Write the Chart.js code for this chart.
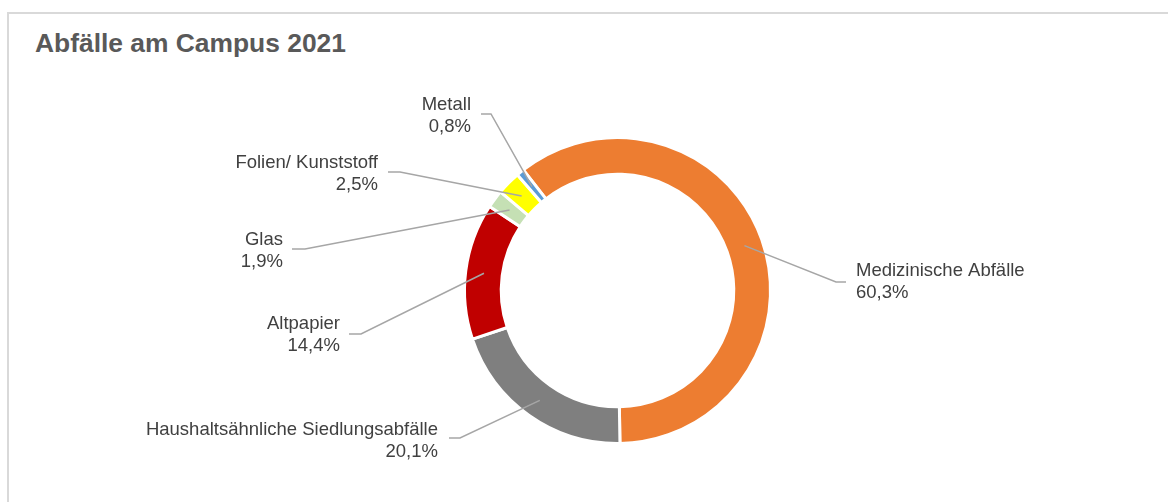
<!DOCTYPE html>
<html lang="de">
<head>
    <meta charset="UTF-8">
    <title>Abfälle am Campus 2021</title>
    <script src="https://cdn.jsdelivr.net/npm/chart.js"></script>
    <style>
        html, body { margin: 0; padding: 0; background: #fff; overflow: hidden; }
        .wrap { position: relative; width: 1168px; height: 502px; }
        .frame { position: absolute; left: 7px; top: 12px; width: 1200px; height: 520px; border-left: 2px solid #d9d9d9; border-top: 2px solid #d9d9d9; }
        .title { position: absolute; left: 35px; top: 28px; font: bold 26.4px "Liberation Sans", Arial, sans-serif; color: #595959; }
        canvas { position: absolute; left: 0; top: 0; }
    </style>
</head>
<body>
<div class="wrap">
    <div class="frame"></div>
    <div class="title">Abfälle am Campus 2021</div>
    <canvas id="wasteChart" width="1168" height="502"></canvas>
</div>
<script>
    // Daten
    const categories = ['Medizinische Abfälle', 'Haushaltsähnliche Siedlungsabfälle', 'Altpapier', 'Glas', 'Folien/ Kunststoff', 'Metall'];
    const shares = [60.3, 20.1, 14.4, 1.9, 2.5, 0.8];
    const colors = ['#ED7D31', '#7F7F7F', '#C00000', '#C5E0B4', '#FFFF00', '#5B9BD5'];

    // label placement (pixels) - text anchor + leader line elbow
    const labelLayout = [
        { x: 856, y: 271, align: 'left',  from: [846, 282], elbow: [836, 282] },
        { x: 438, y: 430, align: 'right', from: [449, 438], elbow: [460, 438] },
        { x: 340, y: 324, align: 'right', from: [349, 334], elbow: [361, 334] },
        { x: 283, y: 240, align: 'right', from: [292, 249], elbow: [305, 249] },
        { x: 378, y: 163, align: 'right', from: [388, 172], elbow: [400, 172] },
        { x: 471, y: 105, align: 'right', from: [481, 114], elbow: [491, 114] }
    ];

    const fmt = v => v.toFixed(1).replace('.', ',') + '%';

    const leaderLabels = {
        id: 'leaderLabels',
        afterDatasetsDraw(chart) {
            const ctx = chart.ctx;
            const arcs = chart.getDatasetMeta(0).data;
            ctx.save();
            arcs.forEach((arc, i) => {
                const L = labelLayout[i];
                const p = arc.tooltipPosition();
                ctx.beginPath();
                ctx.strokeStyle = '#a6a6a6';
                ctx.lineWidth = 1.5;
                ctx.moveTo(L.from[0], L.from[1]);
                ctx.lineTo(L.elbow[0], L.elbow[1]);
                ctx.lineTo(p.x, p.y);
                ctx.stroke();

                ctx.fillStyle = '#404040';
                ctx.font = '18.5px "Liberation Sans", Arial, sans-serif';
                ctx.textAlign = L.align;
                ctx.textBaseline = 'middle';
                ctx.fillText(categories[i], L.x, L.y);
                ctx.fillText(fmt(shares[i]), L.x, L.y + 22);
            });
            ctx.restore();
        }
    };

    new Chart(document.getElementById('wasteChart'), {
        type: 'doughnut',
        data: {
            labels: categories,
            datasets: [{
                data: shares,
                backgroundColor: colors,
                borderColor: '#ffffff',
                borderWidth: 3
            }]
        },
        options: {
            responsive: false,
            animation: false,
            cutout: '76%',
            rotation: -38,
            layout: { padding: { top: 136, bottom: 57, left: 67, right: 0 } },
            plugins: {
                legend: { display: false },
                tooltip: { enabled: false },
                title: { display: false }
            }
        },
        plugins: [leaderLabels]
    });
</script>
</body>
</html>
